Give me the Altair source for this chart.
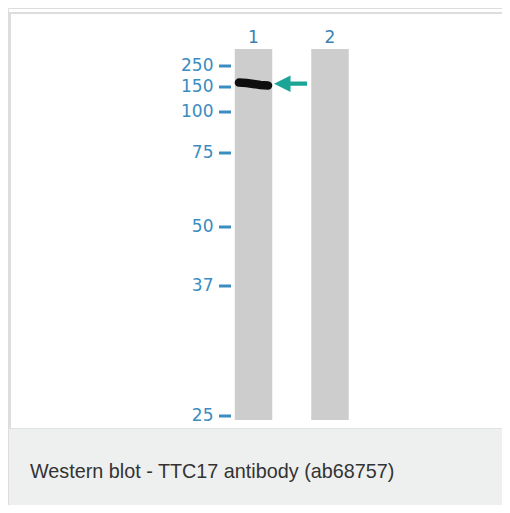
import altair as alt
import pandas as pd

# ---- data ----
lanes = [1, 2]
lane_labels = ["1", "2"]
lane_length = 371                      # migration units (px-like) from well to lane end
marker_kda = ["250", "150", "100", "75", "50", "37", "25"]
marker_migration = [17, 38, 63, 104, 178, 237, 367]
band_lane = 1
band_offsets = [-0.19, -0.09, 0.0, 0.09, 0.19]
band_migration = [33.6, 34.0, 35.0, 36.0, 36.5]
arrow_lane = 1.484
arrow_migration = 34.7
caption = "Western blot - TTC17 antibody (ab68757)"

W, H = 494, 497
PX_PER_LANE = 76.5
LANE_ORIGIN = 169
x_scale = alt.Scale(domain=[-LANE_ORIGIN / PX_PER_LANE, (W - LANE_ORIGIN) / PX_PER_LANE],
                    nice=False, zero=False)
y_scale = alt.Scale(domain=[-41, H - 41], reverse=True, nice=False, zero=False)

BLUE = "#3a8cc1"

lane_df = pd.DataFrame({
    "lane": lanes,
    "label": lane_labels,
    "x0": [l - 0.245 for l in lanes],
    "x1": [l + 0.245 for l in lanes],
    "top": [0] * len(lanes),
    "bottom": [lane_length] * len(lanes),
})
marker_df = pd.DataFrame({"kda": marker_kda, "mig": marker_migration,
                          "ref": [band_lane] * len(marker_kda)})
band_df = pd.DataFrame({"x": [band_lane + o for o in band_offsets], "mig": band_migration,
                        "order": list(range(len(band_offsets)))})
arrow_df = pd.DataFrame({"x": [arrow_lane], "mig": [arrow_migration]})
cap_df = pd.DataFrame({"t": [caption]})

# decorative frame and caption box
frame_top = alt.Chart(cap_df).mark_rule(color="#dddddd", strokeWidth=2).encode(
    x=alt.value(1), x2=alt.value(W), y=alt.value(5))
frame_left = alt.Chart(cap_df).mark_rule(color="#dddddd", strokeWidth=2).encode(
    x=alt.value(2), y=alt.value(4), y2=alt.value(420))
cap_box = alt.Chart(cap_df).mark_rect(color="#eef0ef").encode(
    x=alt.value(1), x2=alt.value(W), y=alt.value(420), y2=alt.value(H))
cap_line = alt.Chart(cap_df).mark_rule(color="#e0e2e1", strokeWidth=1).encode(
    x=alt.value(1), x2=alt.value(W), y=alt.value(420.5))
cap_text = alt.Chart(cap_df).mark_text(align="left", baseline="alphabetic", font="Liberation Sans",
                                       fontSize=19.8, color="#333333").encode(
    x=alt.value(22), y=alt.value(470), text="t:N")

lane_rects = alt.Chart(lane_df).mark_rect(color="#cdcdcd").encode(
    x=alt.X("x0:Q", scale=x_scale, axis=None), x2="x1:Q",
    y=alt.Y("top:Q", scale=y_scale, axis=None), y2="bottom:Q")
lane_text = alt.Chart(lane_df).mark_text(font="DejaVu Sans", fontSize=17, color="#3b82b1",
                                         baseline="middle", dy=-11).encode(
    x=alt.X("lane:Q", scale=x_scale, axis=None),
    y=alt.Y("top:Q", scale=y_scale, axis=None), text="label:N")

marker_text = alt.Chart(marker_df).mark_text(font="DejaVu Sans", fontSize=17, color=BLUE,
                                             align="right", baseline="middle", dx=-40).encode(
    x=alt.X("ref:Q", scale=x_scale, axis=None),
    y=alt.Y("mig:Q", scale=y_scale, axis=None), text="kda:N")
marker_dash = alt.Chart(marker_df).mark_rule(color=BLUE, strokeWidth=3, xOffset=-34.5,
                                             x2Offset=-22.5).encode(
    x=alt.X("ref:Q", scale=x_scale, axis=None), x2="ref:Q",
    y=alt.Y("mig:Q", scale=y_scale, axis=None))

band = alt.Chart(band_df).mark_line(color="#0e0e0e", strokeWidth=8.5, strokeCap="round").encode(
    x=alt.X("x:Q", scale=x_scale, axis=None),
    y=alt.Y("mig:Q", scale=y_scale, axis=None), order="order:Q")

arrow = alt.Chart(arrow_df).mark_point(
    shape="M -1 0 L 0 -0.5 L 0 -0.13 L 1 -0.13 L 1 0.13 L 0 0.13 L 0 0.5 Z",
    filled=True, size=1089, color="#1ba597", opacity=1, strokeWidth=0).encode(
    x=alt.X("x:Q", scale=x_scale, axis=None),
    y=alt.Y("mig:Q", scale=y_scale, axis=None))

chart = alt.layer(
    cap_box, cap_line, frame_top, frame_left, cap_text,
    lane_rects, lane_text, marker_text, marker_dash, band, arrow
).properties(width=W, height=H, padding=0, autosize=alt.AutoSizeParams(type="none")
).configure_view(strokeWidth=0).configure(background="white")

chart.save("out.html", embed_options={"renderer": "svg", "actions": False})
